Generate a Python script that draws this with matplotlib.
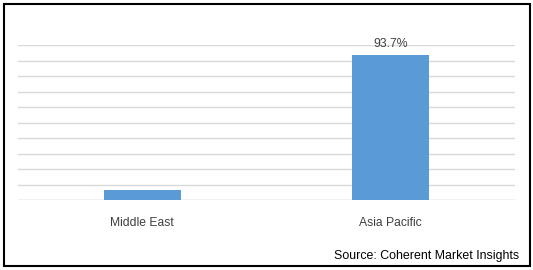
import matplotlib.pyplot as plt
from matplotlib.patches import Rectangle

regions = ['Middle East', 'Asia Pacific']
share = [6.3, 93.7]
shown_labels = ['', '93.7%']

plt.rcParams['font.family'] = ['Liberation Sans', 'DejaVu Sans']

fig = plt.figure(figsize=(5.33, 2.70), dpi=100)
ax = fig.add_axes([18 / 533, 70 / 270, 497 / 533, 155 / 270])

x = range(len(regions))
bars = ax.bar(x, share, width=0.31, color='#5b9bd5', zorder=3)
for b, lab in zip(bars, shown_labels):
    if lab:
        ax.text(b.get_x() + b.get_width() / 2, b.get_height() + 3, lab,
                ha='center', va='bottom', fontsize=8.8, color='#404040')

ax.set_xlim(-0.5, 1.5)
ax.set_ylim(0, 100)
ax.set_yticks(range(0, 101, 10))
ax.yaxis.grid(True, color='#d9d9d9', linewidth=1)
ax.set_axisbelow(True)
ax.tick_params(left=False, labelleft=False, bottom=False)
ax.set_xticks(list(x))
ax.set_xticklabels(regions, fontsize=8.7, color='#404040')
ax.tick_params(axis='x', pad=9)
for s in ax.spines.values():
    s.set_visible(False)
ax.axhline(0, color='#d9d9d9', linewidth=1, zorder=2)

fig.text(519 / 533, 1 - 256 / 270, 'Source: Coherent Market Insights',
         ha='right', va='center', fontsize=8.9, color='#000000')

fig.patches.append(Rectangle((4 / 533, 4 / 270), 526 / 533, 262 / 270,
                             transform=fig.transFigure, fill=False,
                             edgecolor='black', linewidth=1.5))

fig.savefig('out.png', dpi=100)
